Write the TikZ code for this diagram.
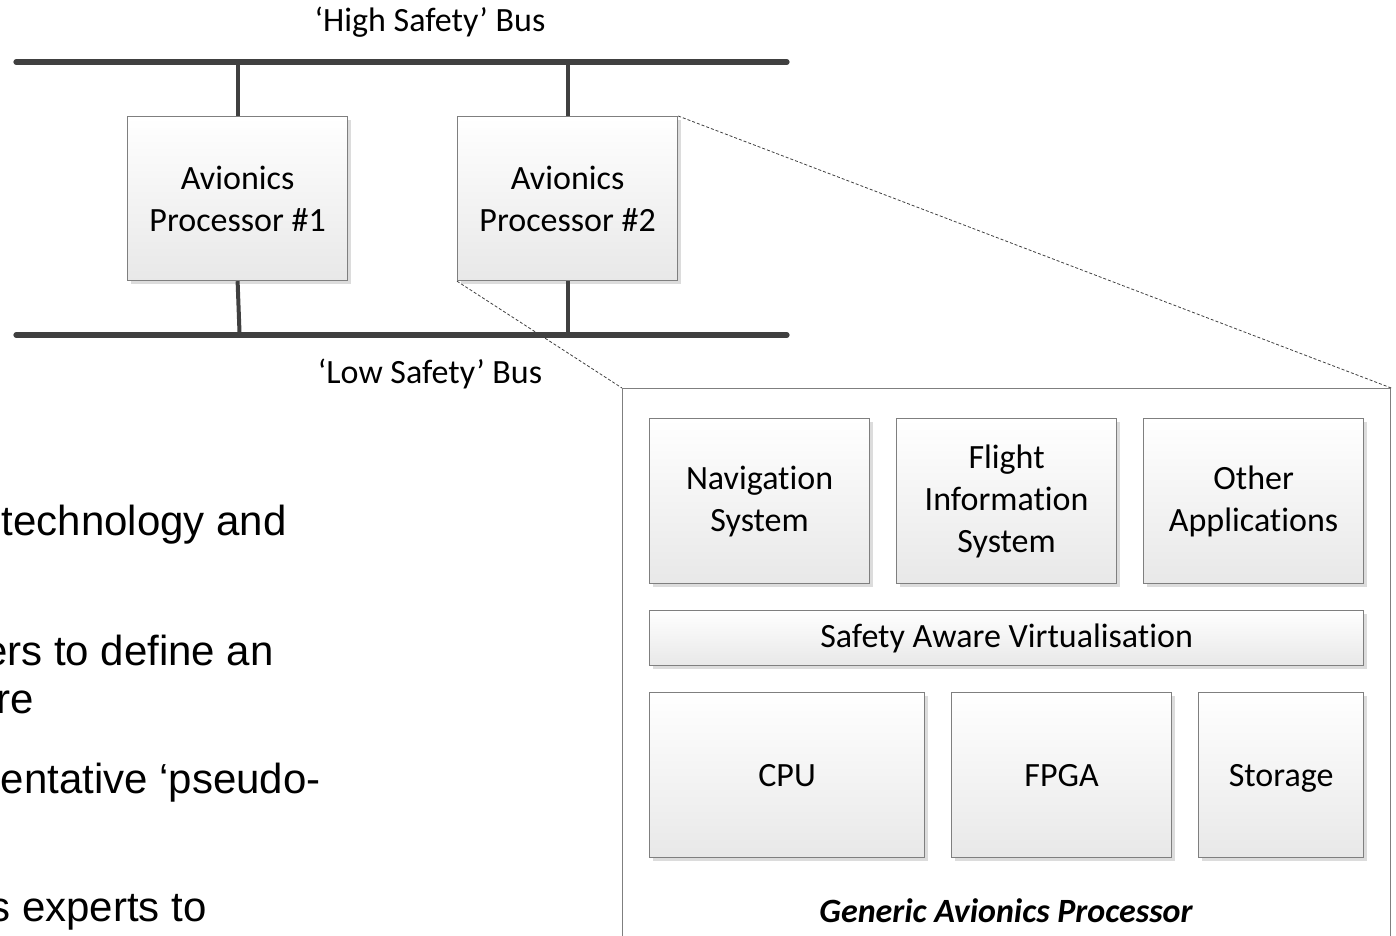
\documentclass[tikz,border=0pt]{standalone}
\usepackage{fontspec}
\setmainfont{Carlito}[Ligatures=NoCommon]
\newfontfamily\arialfont{Liberation Sans}
\usetikzlibrary{shadows}
\definecolor{busgray}{HTML}{404040}
\definecolor{edgegray}{HTML}{7F7F7F}
\tikzset{
  blk/.style={draw=edgegray, line width=0.6pt, top color=white, bottom color=black!9,
    drop shadow={shadow xshift=1.6pt, shadow yshift=-1.6pt, fill=black!30, opacity=0.45},
    anchor=north west, inner sep=2pt, align=center, font=\fontsize{17}{21}\selectfont},
  bus/.style={draw=busgray, line width=2.6pt, line cap=round},
  link/.style={draw=busgray, line width=2pt},
  zoomline/.style={draw=black!75, line width=0.4pt, dash pattern=on 1.5pt off 1pt},
  lbl/.style={inner sep=0pt, font=\fontsize{17}{21}\selectfont},
  slide/.style={inner sep=0pt, anchor=base east, font=\arialfont\fontsize{21}{25}\selectfont}
}
\begin{document}
\begin{tikzpicture}[x=0.5pt, y=-0.5pt]
\useasboundingbox (0,0) rectangle (1396,936);
\clip (0,0) rectangle (1396,936);
% slide text fragments
\node[slide] (t1) at (287,535) {technology and};
\node[slide] (t2) at (274,665) {ers to define an};
\node[slide] (t3) at (34,713) {re};
\node[slide] (t4) at (321,793) {entative ‘pseudo-};
\node[slide] (t5) at (207,921) {s experts to};
% buses
\coordinate (hbL) at (16,62);
\coordinate (hbR) at (787,62);
\coordinate (lbL) at (16,335);
\coordinate (lbR) at (787,335);
\node[lbl] (hlab) at (430,22) {‘High Safety’ Bus};
\node[lbl] (llab) at (430,374) {‘Low Safety’ Bus};
% processors
\node[blk, minimum width=110pt, minimum height=82pt] (p1) at (127,116) {Avionics\\Processor \#1};
\node[blk, minimum width=110pt, minimum height=82pt] (p2) at (457,116) {Avionics\\Processor \#2};
\draw[link] (p1.north) -- (p1.north |- hbL);
\draw[link] (p2.north) -- (p2.north |- hbL);
\draw[link] (p1.south) -- ([xshift=1pt]p1.south |- lbL);
\draw[link] (p2.south) -- (p2.south |- lbL);
\draw[bus] (hbL) -- (hbR);
\draw[bus] (lbL) -- (lbR);
% generic processor
\node[draw=edgegray, line width=0.6pt, fill=white, anchor=north west, minimum width=384pt, minimum height=285pt, inner sep=0pt] (gap) at (622,388) {};
\draw[zoomline] (p2.north east) -- (gap.north east);
\draw[zoomline] (p2.south west) -- (gap.north west);
\node[blk, minimum width=110pt, minimum height=82.5pt] (nav) at (649,418) {Navigation\\System};
\node[blk, minimum width=110pt, minimum height=82.5pt] (fis) at (896,418) {Flight\\Information\\System};
\node[blk, minimum width=110pt, minimum height=82.5pt] (oth) at (1143,418) {Other\\Applications};
\node[blk, minimum width=357pt, minimum height=27.5pt] (sav) at (649,610) {Safety Aware Virtualisation};
\node[blk, minimum width=137.5pt, minimum height=82.5pt] (cpu) at (649,692) {CPU};
\node[blk, minimum width=110pt, minimum height=82.5pt] (fpga) at (951,692) {FPGA};
\node[blk, minimum width=82.5pt, minimum height=82.5pt, text depth=0pt] (sto) at (1198,692) {Storage};
\node[lbl, font=\fontsize{17}{21}\selectfont\bfseries\itshape] (gtitle) at (1006,911) {Generic Avionics Processor};
\end{tikzpicture}
\end{document}
